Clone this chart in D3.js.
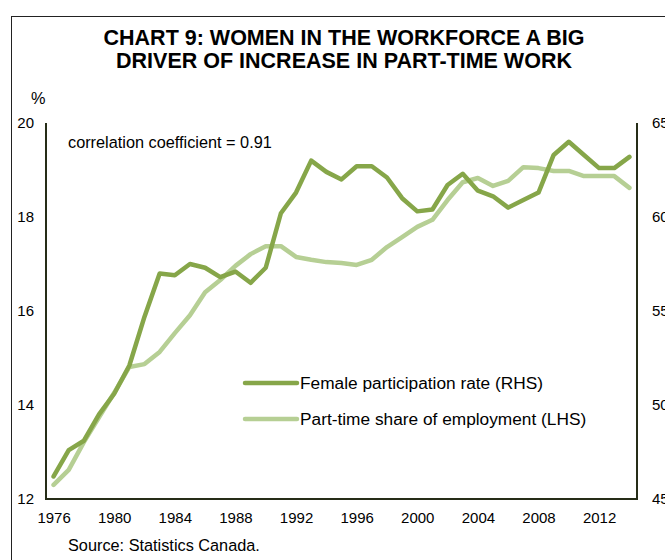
<!DOCTYPE html>
<html>
<head>
    <meta charset="utf-8">
    <style>
        body {
            margin: 0;
            background: #fff;
            font-family: Arial, "Liberation Sans", sans-serif;
        }

        svg {
            display: block;
        }

        .title {
            font-size: 21.5px;
            font-weight: bold;
            fill: #000;
        }

        .tick-label {
            font-size: 15px;
            fill: #000;
        }

        .note {
            font-size: 16.3px;
            fill: #000;
        }

        .legend-text {
            font-size: 17.3px;
            fill: #000;
        }
    </style>
</head>
<body>
    <svg width="665" height="560"></svg>

<script src="https://d3js.org/d3.v7.min.js"></script>
<script>
    // years on the category axis
    let years = d3.range(1976, 2015)

    // female participation rate, % (right axis)
    let femaleRate = [46.2, 47.6, 48.1, 49.5, 50.6, 52.1, 54.7, 57.0, 56.9, 57.5,
        57.3, 56.8, 57.1, 56.5, 57.3, 60.2, 61.3, 63.0, 62.4, 62.0,
        62.7, 62.7, 62.1, 61.0, 60.3, 60.4, 61.7, 62.3, 61.4, 61.1,
        60.5, 60.9, 61.3, 63.3, 64.0, 63.3, 62.6, 62.6, 63.2]

    // part-time share of employment, % (left axis)
    let partTime = [12.30, 12.62, 13.21, 13.74, 14.26, 14.81, 14.87, 15.13, 15.53, 15.91,
        16.40, 16.66, 16.96, 17.21, 17.38, 17.38, 17.15, 17.09, 17.04, 17.02,
        16.98, 17.09, 17.36, 17.57, 17.79, 17.94, 18.36, 18.74, 18.83, 18.66,
        18.77, 19.06, 19.04, 18.98, 18.98, 18.87, 18.87, 18.87, 18.62]

    let leftTicks = [12, 14, 16, 18, 20]
    let rightTicks = [45, 50, 55, 60, 65]
    let xTicks = [1976, 1980, 1984, 1988, 1992, 1996, 2000, 2004, 2008, 2012]

    let darkGreen = "#86a649"
    let lightGreen = "#b6cf94"
    let axisColor = "#262d18"

    let svg = d3.select("svg")

    let margin = { top: 123, right: 637, bottom: 499, left: 46 }

    // outer chart frame (runs off the page at right and bottom)
    svg.append("rect")
        .attr("x", 11.5)
        .attr("y", 16.5)
        .attr("width", 700)
        .attr("height", 600)
        .style("fill", "none")
        .style("stroke", "#222")
        .style("stroke-width", "1px")

    // title
    let title = svg.append("text")
        .attr("class", "title")
        .attr("text-anchor", "middle")
    title.append("tspan").attr("x", 344).attr("y", 45)
        .text("CHART 9: WOMEN IN THE WORKFORCE A BIG")
    title.append("tspan").attr("x", 344).attr("y", 68)
        .text("DRIVER OF INCREASE IN PART-TIME WORK")

    let x = d3.scalePoint()
        .domain(years)
        .range([margin.left, margin.right])
        .padding(0.5)

    let yLeft = d3.scaleLinear()
        .domain([12, 20])
        .range([margin.bottom, margin.top])

    let yRight = d3.scaleLinear()
        .domain([45, 65])
        .range([margin.bottom, margin.top])

    // axes: labels only, lines drawn separately
    let leftAxis = svg.append("g")
        .attr("transform", `translate(${margin.left},0)`)
        .call(d3.axisLeft(yLeft).tickValues(leftTicks).tickSize(0).tickPadding(12))
    let rightAxis = svg.append("g")
        .attr("transform", `translate(${margin.right},0)`)
        .call(d3.axisRight(yRight).tickValues(rightTicks).tickSize(0).tickPadding(15))
    let bottomAxis = svg.append("g")
        .attr("transform", `translate(0,${margin.bottom})`)
        .call(d3.axisBottom(x).tickValues(xTicks).tickSize(0).tickPadding(13))

    svg.selectAll(".domain").remove()
    svg.selectAll(".tick text")
        .attr("class", "tick-label")
        .style("font-family", "Arial, 'Liberation Sans', sans-serif")

    svg.append("text")
        .attr("class", "note")
        .attr("x", 31)
        .attr("y", 104)
        .text("%")

    // axis lines: left, bottom, right
    svg.append("path")
        .attr("d", `M${margin.left},${margin.top}V${margin.bottom}H${margin.right}V${margin.top}`)
        .style("fill", "none")
        .style("stroke", axisColor)
        .style("stroke-width", "2px")

    let lineLeft = d3.line()
        .x(function (d, i) { return x(years[i]) })
        .y(function (d) { return yLeft(d) })

    let lineRight = d3.line()
        .x(function (d, i) { return x(years[i]) })
        .y(function (d) { return yRight(d) })

    svg.append("path")
        .attr("d", lineLeft(partTime))
        .style("fill", "none")
        .style("stroke", lightGreen)
        .style("stroke-width", "4.5px")
        .style("stroke-linejoin", "round")
        .style("stroke-linecap", "round")

    svg.append("path")
        .attr("d", lineRight(femaleRate))
        .style("fill", "none")
        .style("stroke", darkGreen)
        .style("stroke-width", "4.5px")
        .style("stroke-linejoin", "round")
        .style("stroke-linecap", "round")

    // correlation note
    svg.append("text")
        .attr("class", "note")
        .attr("x", 68)
        .attr("y", 148)
        .text("correlation coefficient = 0.91")

    // legend
    let legendItems = [
        { label: "Female participation rate (RHS)", color: darkGreen },
        { label: "Part-time share of employment (LHS)", color: lightGreen }
    ]

    let legend = svg.append("g")
        .selectAll("g")
        .data(legendItems)
        .join("g")
        .attr("transform", function (d, i) { return `translate(243,${383 + i * 36})` })

    legend.append("line")
        .attr("x1", 2)
        .attr("x2", 54)
        .style("stroke", d => d.color)
        .style("stroke-width", "4.5px")
        .style("stroke-linecap", "round")

    legend.append("text")
        .attr("class", "legend-text")
        .attr("x", 57)
        .attr("y", 6)
        .text(d => d.label)

    svg.append("text")
        .attr("class", "note")
        .attr("x", 68)
        .attr("y", 551)
        .text("Source: Statistics Canada.")
</script>
</body>
</html>
